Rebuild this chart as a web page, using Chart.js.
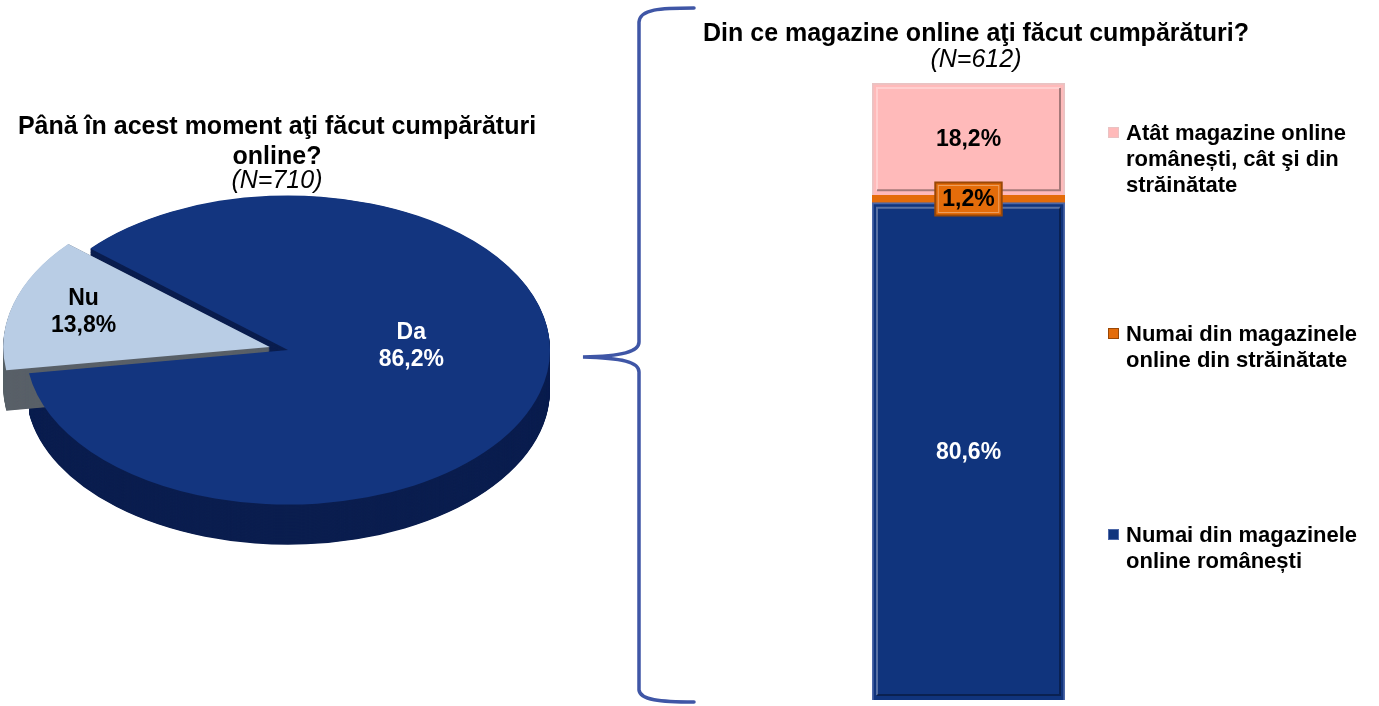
<!DOCTYPE html>
<html>
<head>
<meta charset="utf-8">
<script src="https://cdn.jsdelivr.net/npm/chart.js@4.4.1/dist/chart.umd.min.js"></script>
<style>
  body { margin: 0; background: #fff; width: 1379px; height: 706px; overflow: hidden; position: relative;
         font-family: "Liberation Sans", Arial, sans-serif; }
  .abs { position: absolute; }
  .title { font-weight: bold; font-size: 25px; line-height: 30px; text-align: center; white-space: nowrap; color: #000; }
  .sub { font-style: italic; font-size: 25px; line-height: 30px; text-align: center; white-space: nowrap; color: #000; }
  .leg { font-weight: bold; font-size: 22px; line-height: 26px; white-space: nowrap; color: #000; }
  .leg i { position: absolute; left: -18px; top: 7px; width: 11px; height: 11px; box-sizing: border-box; border: 1px solid; }
</style>
</head>
<body>

<svg class="abs" style="left:0;top:0" width="1379" height="706">
  <path d="M694 8 C660 8 640 9 639 22 L639 342 C639 352 622 356 583 357 C622 358 639 362 639 372 L639 690 C640 700 660 702 694 702"
        fill="none" stroke="#3f56a6" stroke-width="3.5" stroke-linecap="round"/>
</svg>

<canvas id="pie" class="abs" style="left:0;top:0" width="580" height="700"></canvas>
<canvas id="bar" class="abs" style="left:640px;top:0" width="739" height="706"></canvas>

<div class="abs title" style="left:0;top:110px;width:554px">Până în acest moment aţi făcut cumpărături<br>online?</div>
<div class="abs sub" style="left:0;top:164px;width:554px">(N=710)</div>
<div class="abs title" style="left:676px;top:17px;width:600px">Din ce magazine online aţi făcut cumpărături?</div>
<div class="abs sub" style="left:676px;top:43px;width:600px">(N=612)</div>

<div id="legend"></div>

<script>
// pie: "Până în acest moment aţi făcut cumpărături online?"
const pieLabels = ['Da', 'Nu'];
const pieValues = [86.2, 13.8];
const pieColors = ['#13357f', '#b9cde5'];
const pieSides = ['#0b1e4f', '#596068'];
const pieTextColors = ['#ffffff', '#000000'];

// stacked bar: "Din ce magazine online aţi făcut cumpărături?"
const barCategories = [''];
const barLabels = [
  ['Numai din magazinele', 'online românești'],
  ['Numai din magazinele', 'online din străinătate'],
  ['Atât magazine online', 'românești, cât şi din', 'străinătate']
];
const barValues = [80.6, 1.2, 18.2];
const barColors = ['#10347d', '#e46c0a', '#ffbaba'];
const barBorders = ['#4d68a8', '#9a4806', '#e9c3c3'];
const barTextColors = ['#ffffff', '#000000', '#000000'];

const fmt = v => v.toFixed(1).replace('.', ',') + '%';
const FONT = '"Liberation Sans", Arial, sans-serif';

// one wedge of the pie, same geometry as ArcElement.draw (offset/4 shift)
function wedge(ctx, a, dy) {
  const off = (a.options.offset || 0) / 4;
  const half = (a.startAngle + a.endAngle) / 2;
  const fix = 1 - Math.sin(Math.min(Math.PI, a.circumference || 0));
  const r = a.outerRadius + off * fix;
  const cx = a.x + Math.cos(half) * off;
  const cy = a.y + Math.sin(half) * off + dy;
  ctx.beginPath();
  ctx.moveTo(cx, cy);
  ctx.arc(cx, cy, r, a.startAngle, a.endAngle);
  ctx.closePath();
  ctx.fill();
}

const pie3d = {
  id: 'pie3d',
  beforeDatasetsDraw(chart, args, opts) {
    const ctx = chart.ctx;
    const arcs = chart.getDatasetMeta(0).data;
    const cy = arcs[0].y;
    ctx.save();
    ctx.translate(0, cy);
    ctx.scale(1, opts.tilt);
    ctx.translate(0, -cy);
    const steps = Math.round(opts.depth / opts.tilt);
    arcs.forEach((a, i) => {
      ctx.fillStyle = pieSides[i];
      for (let d = steps; d > 0; d--) wedge(ctx, a, d);
    });
  },
  afterDatasetsDraw(chart, args, opts) {
    const ctx = chart.ctx;
    ctx.restore();
    const arcs = chart.getDatasetMeta(0).data;
    ctx.save();
    ctx.font = 'bold 23px ' + FONT;
    ctx.textAlign = 'center';
    ctx.textBaseline = 'middle';
    arcs.forEach((a, i) => {
      const off = (a.options.offset || 0) / 4;
      const half = (a.startAngle + a.endAngle) / 2;
      const r = a.outerRadius * opts.labelAt[i];
      const x = a.x + Math.cos(half) * (off + r);
      const y = a.y + Math.sin(half) * (off + r) * opts.tilt + opts.labelShift[i];
      ctx.fillStyle = pieTextColors[i];
      ctx.fillText(pieLabels[i], x, y - 13);
      ctx.fillText(fmt(pieValues[i]), x, y + 14);
    });
    ctx.restore();
  }
};

new Chart(document.getElementById('pie'), {
  type: 'pie',
  data: {
    labels: pieLabels,
    datasets: [{
      data: pieValues,
      backgroundColor: pieColors,
      borderWidth: 0,
      offset: [0, 76]
    }]
  },
  options: {
    responsive: false,
    animation: false,
    events: [],
    rotation: 311,
    radius: 262,
    layout: { padding: { left: 0, right: 4, top: 0, bottom: 0 } },
    plugins: {
      legend: { display: false },
      tooltip: { enabled: false },
      pie3d: { tilt: 0.59, depth: 40, labelAt: [0.49, 0.74], labelShift: [-25, -3] }
    }
  },
  plugins: [pie3d]
});

// bevel + value labels for the bar segments
function isThin(el) { return Math.abs(el.base - el.y) < 20; }

const barDecor = {
  id: 'barDecor',
  afterDatasetsDraw(chart) {
    const ctx = chart.ctx;
    ctx.save();
    chart.data.datasets.forEach((ds, i) => {
      const el = chart.getDatasetMeta(i).data[0];
      if (isThin(el)) return;
      const x0 = el.x - el.width / 2, x1 = el.x + el.width / 2;
      const t = Math.min(el.y, el.base), b = Math.max(el.y, el.base);
      const s = 5;
      ctx.lineWidth = 2;
      ctx.strokeStyle = 'rgba(255,255,255,0.3)';
      ctx.beginPath();
      ctx.moveTo(x0 + s, b - s); ctx.lineTo(x0 + s, t + s); ctx.lineTo(x1 - s, t + s);
      ctx.stroke();
      ctx.strokeStyle = 'rgba(0,0,0,0.35)';
      ctx.beginPath();
      ctx.moveTo(x1 - s, t + s); ctx.lineTo(x1 - s, b - s); ctx.lineTo(x0 + s, b - s);
      ctx.stroke();
    });
    ctx.font = 'bold 23px ' + FONT;
    ctx.textAlign = 'center';
    ctx.textBaseline = 'middle';
    chart.data.datasets.forEach((ds, i) => {
      const el = chart.getDatasetMeta(i).data[0];
      const y = (el.y + el.base) / 2;
      const txt = fmt(ds.data[0]);
      if (isThin(el)) {
        const w = ctx.measureText(txt).width + 14, h = 33;
        ctx.fillStyle = barColors[i];
        ctx.fillRect(el.x - w / 2, y - h / 2, w, h);
        ctx.lineWidth = 2;
        ctx.strokeStyle = barBorders[i];
        ctx.strokeRect(el.x - w / 2, y - h / 2, w, h);
        ctx.strokeStyle = 'rgba(255,255,255,0.35)';
        ctx.lineWidth = 1;
        ctx.strokeRect(el.x - w / 2 + 3, y - h / 2 + 3, w - 6, h - 6);
      }
      ctx.fillStyle = barTextColors[i];
      ctx.fillText(txt, el.x, y + 1);
    });
    ctx.restore();
  }
};

new Chart(document.getElementById('bar'), {
  type: 'bar',
  data: {
    labels: barCategories,
    datasets: barValues.map((v, i) => ({
      label: barLabels[i].join(' '),
      data: [v],
      backgroundColor: barColors[i],
      borderColor: barBorders[i],
      borderWidth: i === 1 ? 0 : 2,
      barPercentage: 1,
      categoryPercentage: 1
    }))
  },
  options: {
    responsive: false,
    animation: false,
    events: [],
    layout: { padding: { left: 232, right: 314, top: 83, bottom: 6 } },
    scales: {
      x: { stacked: true, display: false },
      y: { stacked: true, display: false, min: 0, max: 100 }
    },
    plugins: { legend: { display: false }, tooltip: { enabled: false } }
  },
  plugins: [barDecor]
});

// legend on the right, top item = top segment
const legend = document.getElementById('legend');
const legendLeft = 1126, legendTop = 120, legendStep = 201;
barLabels.slice().reverse().forEach((lines, k) => {
  const i = barLabels.length - 1 - k;
  const d = document.createElement('div');
  d.className = 'abs leg';
  d.style.left = legendLeft + 'px';
  d.style.top = (legendTop + k * legendStep) + 'px';
  d.innerHTML = '<i style="background:' + barColors[i] + ';border-color:' + barBorders[i] + '"></i>' + lines.join('<br>');
  legend.appendChild(d);
});
</script>
</body>
</html>
